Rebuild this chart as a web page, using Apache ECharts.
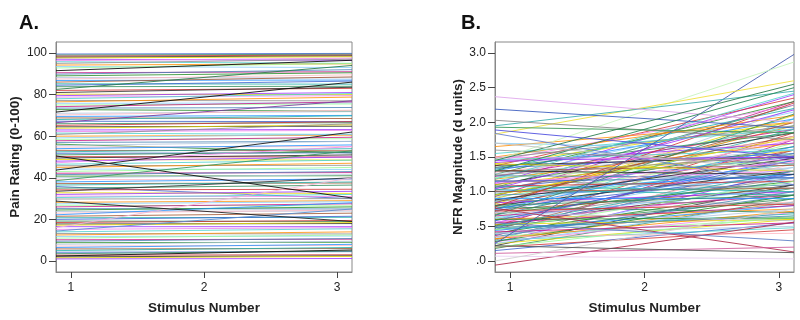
<!DOCTYPE html>
<html><head><meta charset="utf-8">
<script src="https://cdn.jsdelivr.net/npm/echarts@6/dist/echarts.min.js"></script>
<style>html,body{margin:0;padding:0;background:#fff}#c{width:800px;height:320px}</style>
</head><body><div id="c"></div>
<script>
// ---------------- DATA ----------------
const stimulusTicks = [1, 2, 3];
const painTicks = [0, 20, 40, 60, 80, 100];
const nfrTicks = [0, 0.5, 1, 1.5, 2, 2.5, 3];

// Panel A: each subject's pain-rating line, [value at left border, value at right border]
const painLines = [
 [99.5,99.8],[99,99.4],[98.5,99],[98,98.6],[97.6,98.2],[97,96.5],[96.3,97.5],[95.8,95],[95,97],[94.2,94.8],
 [93.5,93],[92.8,95],[90.5,91],[89.8,92],[89,90.5],[88.2,88],[87.5,89.5],[86.8,87],[86,88.5],[85.2,85],
 [84.5,86.5],[83.8,84],[82,83],[81,83.5],[80.2,80],[79.5,81],[78.8,79.5],[78,80.5],[77.2,77],[76.5,78.8],
 [75.8,76],[75,75.5],[74.2,76.5],[73.5,73.8],[72.8,72],[71,71.8],[70.2,72.5],[69.5,70],[68.8,68.5],[68,69.8],
 [67.2,67],[66,66.5],[65.2,67],[64.5,64.8],[63.8,65.5],[63,63.2],[62.2,62.8],[61.5,60.8],[60.8,66],[60,60.5],
 [59.2,61],[58.5,58.8],[57.8,59.5],[57,57.5],[56.2,52],[55.5,57.5],[54.8,55],[54,55.8],[53.2,53],[52.5,54],
 [51.8,52],[51,52.5],[50.2,50],[49.5,51],[48.8,48.5],[48,50],[47.2,55],[46.5,48.5],[45.8,46],[45,47],
 [44.2,44],[43,45],[42.2,42.5],[41.5,43],[40.8,41],[40,41.5],[39.2,39],[38,39.5],[37.2,37.5],[36.5,38],
 [35.8,30],[35,36.5],[34.2,34.5],[33.5,40],[32.8,32.5],[32,33.5],[31.2,31],[30.5,32],[29.8,30],[28.2,29],
 [27.5,28.5],[26.8,26.5],[26,27.5],[25.2,25],[24.5,26],[23.8,24],[23,24.5],[22.2,28],[21.5,23],[20.8,21],
 [20,21.5],[19.2,19],[18.5,19.5],[17.8,18],[17.2,18.5],[16.5,16.5],[15.2,16],[14,15.5],[13.2,13],[12.5,14],
 [11.8,12],[11,12.5],[10.2,10.5],[9.5,10.8],[8.8,9],[8,9.5],[7.2,7.5],[6.5,8],[5.8,6],[5,6.5],
 [4.2,4.5],[3.5,4.8],[2.8,3],[2,2.5],[1.5,2.2],[1,1.2]
];
// Panel A: lines that stand out
const painAccentLines = [
 [82.5,94],[66.5,77],[38.6,53],[16,40],[14.4,25],
 [91.5,96.5],[71.6,86],[50.5,30.3],[43.7,62],[28.8,19],[2.4,5.3]
];

// Panel B: each subject's NFR line, [value at left border, value at right border]
const nfrLines = [
 [0.15,0.55],[0.18,0.9],[0.2,0.45],[0.22,1.1],[0.25,0.6],[0.27,1.3],[0.28,0.7],[0.3,0.48],[0.3,1.5],[0.32,0.85],
 [0.33,1.2],[0.35,0.62],[0.36,1.75],[0.38,0.95],[0.4,1.05],[0.4,0.5],[0.42,1.4],[0.44,0.8],[0.45,1.6],[0.46,0.68],
 [0.48,1.25],[0.5,0.9],[0.5,1.85],[0.52,1.1],[0.53,0.6],[0.55,1.5],[0.56,1.0],[0.58,2.05],[0.6,1.2],[0.6,0.75],
 [0.62,1.35],[0.63,1.7],[0.65,0.95],[0.66,1.55],[0.68,1.15],[0.7,2.2],[0.7,0.85],[0.72,1.45],[0.73,1.05],[0.75,1.9],
 [0.76,1.25],[0.78,0.7],[0.8,1.6],[0.8,1.3],[0.82,2.1],[0.84,1.0],[0.85,1.75],[0.86,1.4],[0.88,0.82],[0.9,1.95],
 [0.9,1.2],[0.92,1.55],[0.93,2.3],[0.95,1.1],[0.96,1.65],[0.98,1.35],[1.0,2.0],[1.0,1.25],[1.02,1.8],[1.03,0.95],
 [1.05,1.5],[1.06,2.25],[1.08,1.15],[1.1,1.85],[1.1,1.6],[1.12,2.4],[1.14,1.3],[1.15,1.95],[1.16,1.05],[1.18,1.7],
 [1.2,2.15],[1.2,1.45],[1.22,1.9],[1.23,1.2],[1.25,2.3],[1.26,1.6],[1.28,1.75],[1.3,2.05],[1.3,1.38],[1.32,2.2],
 [1.34,1.55],[1.35,1.85],[1.37,2.35],[1.38,1.5],[1.4,2.0],[1.42,1.7],[1.44,2.25],[1.46,1.6],[1.48,1.95],[1.5,2.1],
 [0.62,1.05],[0.45,1.15],[0.55,0.8],[0.35,1.0],[0.28,0.95],[0.4,0.75],[0.68,1.8],[0.74,1.65],[0.84,2.0],[0.5,1.3],
 [0.58,1.45],[0.66,2.12],[0.78,2.28],[0.88,1.48],[0.95,1.78],[1.04,2.18],[1.12,1.42],[1.18,2.42],[1.24,1.52],[0.32,0.72],
 [0.25,0.85],[0.2,0.65],[0.42,0.55],[0.48,0.65],[0.6,0.62],[0.7,0.58],[0.35,0.4],[0.9,0.9],[1.0,1.05],[1.08,1.0],
 [1.15,1.2],[0.8,0.95],[0.72,0.82],[1.3,1.25],[1.4,1.3],[1.45,1.5],[1.5,1.45],[1.55,1.9],[1.6,1.4],[1.65,2.0],[1.7,1.6]
];
// Panel B: lines that stand out
const nfrAccentLines = [
 [0.25,2.98],[1.45,2.87],[1.83,2.6],[1.95,2.45],[2.37,2.0],[2.19,1.92],[2.03,1.75],[1.93,1.85],[1.89,1.5],[1.84,1.1],
 [1.45,2.55],[1.3,2.5],[0.76,0.13],[-0.06,0.56],[0.11,0.2],[0.07,0.03],[0.0,0.75],[0.22,0.12],[0.55,0.29],[1.7,1.3]
];

// ---------------- STYLE ----------------
const palette = ['#3a5fcd','#2e8b57','#d03030','#222222','#e6d800','#9b30ff','#ee82ee','#48d1cc','#8c8c8c','#ff8c00',
  '#87cefa','#98fb98','#c71585','#4682b4','#228b22','#b0c4de','#ffb6c1','#1e90ff','#a0522d','#20b2aa'];
const painAccentColors = ['#2e7d4f','#7b3fa0','#3c9a60','#f0b8d8','#5a8fd0','#111111','#111111','#111111','#1a1a1a','#222222','#111111'];
const nfrAccentColors = ['#4a5fb0','#c8f4c0','#f0e040','#40b0b0','#e0a8ec','#4060c0','#8a8a8a','#3a9a5a','#5050e0','#6a80d0',
  '#2e7d4f','#2a8a5a','#b03050','#b03050','#d060a0','#ead0f2','#d0d0d0','#555555','#6080c8','#c0c0c0'];
const X_MIN = 0.888, X_MAX = 3.112;
const FONT = 'Liberation Sans, Arial, sans-serif';

function mkSeries(lines, colors, gi, op) {
  return lines.map((p, i) => ({
    type: 'line', xAxisIndex: gi, yAxisIndex: gi, silent: true, animation: false,
    symbol: 'none', clip: true,
    lineStyle: { width: 1, color: colors[i % colors.length], opacity: op },
    data: [[X_MIN, p[0]], [X_MAX, p[1]]]
  }));
}
function xAxisCfg(gi) {
  return {
    type: 'value', gridIndex: gi, min: X_MIN, max: X_MAX,
    axisLine: { show: true, onZero: false, lineStyle: { color: '#888' } },
    axisTick: { show: true, inside: false, length: 6, customValues: stimulusTicks, lineStyle: { color: '#444' } },
    axisLabel: { customValues: stimulusTicks, margin: 10, fontSize: 12, color: '#222', fontFamily: FONT },
    splitLine: { show: false },
    name: 'Stimulus Number', nameLocation: 'middle', nameGap: 29,
    nameTextStyle: { fontSize: 13.5, fontWeight: 'bold', color: '#222', fontFamily: FONT }
  };
}
function yAxisCfg(gi, min, max, ticks, name, gap, fmt) {
  return {
    type: 'value', gridIndex: gi, min: min, max: max,
    axisLine: { show: true, onZero: false, lineStyle: { color: '#888' } },
    axisTick: { show: true, inside: false, length: 7, customValues: ticks, lineStyle: { color: '#444' } },
    axisLabel: { customValues: ticks, margin: 9, fontSize: 12, color: '#222', fontFamily: FONT, formatter: fmt },
    splitLine: { show: false },
    name: name, nameLocation: 'middle', nameGap: gap,
    nameTextStyle: { fontSize: 13.5, fontWeight: 'bold', color: '#222', fontFamily: FONT }
  };
}

const chart = echarts.init(document.getElementById('c'), null, { renderer: 'canvas' });
chart.setOption({
  backgroundColor: '#fff',
  animation: false,
  title: [
    { text: 'A.', left: 14, top: 8, textStyle: { fontSize: 20, fontWeight: 'bold', color: '#111', fontFamily: FONT } },
    { text: 'B.', left: 456, top: 8, textStyle: { fontSize: 20, fontWeight: 'bold', color: '#111', fontFamily: FONT } }
  ],
  grid: [
    { left: 56, right: 448, top: 42, bottom: 48, show: true, borderColor: '#888', borderWidth: 1, backgroundColor: '#fff' },
    { left: 495, right: 6, top: 42, bottom: 48, show: true, borderColor: '#888', borderWidth: 1, backgroundColor: '#fff' }
  ],
  xAxis: [xAxisCfg(0), xAxisCfg(1)],
  yAxis: [
    yAxisCfg(0, -5.29, 105.29, painTicks, 'Pain Rating (0-100)', 34, v => String(v)),
    yAxisCfg(1, -0.159, 3.159, nfrTicks, 'NFR Magnitude (d units)', 30, v => v.toFixed(1).replace(/^0/, ''))
  ],
  series: [].concat(
    mkSeries(painLines, palette, 0, 0.8),
    mkSeries(painAccentLines, painAccentColors, 0, 0.9),
    mkSeries(nfrLines, palette, 1, 0.8),
    mkSeries(nfrAccentLines, nfrAccentColors, 1, 0.9)
  )
});
</script>
</body></html>
